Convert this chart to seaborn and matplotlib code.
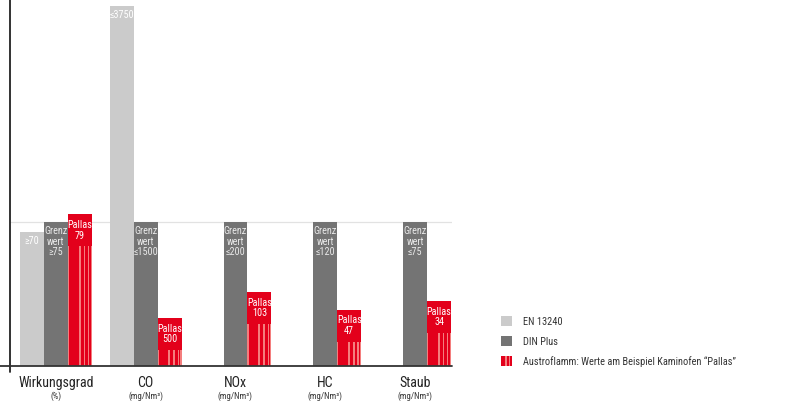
import matplotlib.pyplot as plt
import seaborn as sns
import pandas as pd
from matplotlib.patches import Patch, Rectangle
from matplotlib.legend_handler import HandlerTuple

categories = ['Wirkungsgrad', 'CO', 'NOx', 'HC', 'Staub']
units = ['(%)', '(mg/Nm³)', '(mg/Nm³)', '(mg/Nm³)', '(mg/Nm³)']
series = ['EN 13240', 'DIN Plus', 'Austroflamm: Werte am Beispiel Kaminofen “Pallas”']

en_values = [70, 3750, None, None, None]
en_labels = ['≥70', '≤3750', '', '', '']
din_values = [75, 1500, 200, 120, 75]
din_labels = ['Grenz\nwert\n≥75', 'Grenz\nwert\n≤1500', 'Grenz\nwert\n≤200',
              'Grenz\nwert\n≤120', 'Grenz\nwert\n≤75']
pallas_values = [79, 500, 103, 47, 34]

grey_light = '#cbcbcb'
grey_dark = '#747474'
red = '#e3001b'
red_light = '#f47e7e'

# every value is shown relative to the DIN Plus limit (= 100)
rows = []
for i, cat in enumerate(categories):
    for name, vals in zip(series, [en_values, din_values, pallas_values]):
        if vals[i] is not None:
            rows.append({'cat': cat, 'serie': name, 'rel': vals[i] / din_values[i] * 100})
df = pd.DataFrame(rows)

sns.set_style('white')
plt.rcParams['font.family'] = ['Roboto Condensed', 'Liberation Sans Narrow', 'Roboto', 'DejaVu Sans']
plt.rcParams['font.stretch'] = 'condensed'

W, H = 789, 401
fig = plt.figure(figsize=(W / 100, H / 100), dpi=100)
ax_px = (10, 35, 442, 366)  # left, bottom, width, height in pixels
ax = fig.add_axes([ax_px[0] / W, ax_px[1] / H, ax_px[2] / W, ax_px[3] / H])

sns.barplot(data=df, x='cat', y='rel', hue='serie', order=categories, hue_order=series,
            palette=[grey_light, grey_dark, red], width=0.8, dodge=True, linewidth=0,
            saturation=1, errorbar=None, legend=False, ax=ax)

ytop = 254.2
ax.set_ylim(0, ytop)
ax.set_xlim(-0.511, 4.411)
px = ytop / ax_px[3]  # data units per pixel

sns.despine(ax=ax, left=True, bottom=True)
ax.set_xticks([])
ax.set_yticks([])
ax.set_xlabel('')
ax.set_ylabel('')

ax.axhline(100, color='#e2e2e2', lw=0.9, zorder=0.5)
ax.plot([0, 0], [-6 / ax_px[3], 1], transform=ax.transAxes, clip_on=False, color='#222222', lw=1.3)
ax.plot([-10 / ax_px[2], 1], [0, 0], transform=ax.transAxes, clip_on=False, color='#333333', lw=1.3)

for i, cat in enumerate(categories):
    ax.annotate(cat, xy=(i, 0), xycoords=('data', 'axes fraction'), xytext=(0, -7),
                textcoords='offset points', ha='center', va='top', fontsize=10, color='#222222')
    ax.annotate(units[i], xy=(i, 0), xycoords=('data', 'axes fraction'), xytext=(0, -18.5),
                textcoords='offset points', ha='center', va='top', fontsize=6.3, color='#333333')

txt = dict(ha='center', va='top', fontsize=7.3, linespacing=1.05, textcoords='offset points')

for p in ax.containers[0]:
    cx = p.get_x() + p.get_width() / 2
    i = round(cx + 0.2667)
    ax.annotate(en_labels[i], xy=(cx, p.get_height()), xytext=(0, -3), color='white', **txt)

for p in ax.containers[1]:
    cx = p.get_x() + p.get_width() / 2
    i = round(cx)
    ax.annotate(din_labels[i], xy=(cx, p.get_height()), xytext=(0, -3), color='#e8e8e8', **txt)

box_h = 32 * px
stripes = [(0, 0.05), (0.45, 0.53), (0.66, 0.72), (0.84, 0.89), (0.95, 1.0)]
for p in ax.containers[2]:
    x0, w, h = p.get_x(), p.get_width(), p.get_height()
    cx = x0 + w / 2
    i = round(cx - 0.2667)
    for f0, f1 in stripes:
        ax.add_patch(Rectangle((x0 + f0 * w, 0), (f1 - f0) * w, h - box_h,
                               facecolor=red_light, lw=0, zorder=p.get_zorder() + 0.1))
    ax.annotate(f'Pallas\n{pallas_values[i]}', xy=(cx, h - box_h / 2), xytext=(0, 0),
                textcoords='offset points', ha='center', va='center', fontsize=7.3,
                linespacing=1.05, color='white')

handles = [Patch(facecolor=grey_light, lw=0), Patch(facecolor=grey_dark, lw=0),
           tuple(Patch(facecolor=c, lw=0) for c in [red, red, red_light, red, red_light, red])]
leg = fig.legend(handles, series, loc='upper left', bbox_to_anchor=(492 / W, 1 - 307 / H),
                 frameon=False, handlelength=1.05, handleheight=1.05, handletextpad=1.0,
                 labelspacing=0.9, fontsize=7.5,
                 handler_map={tuple: HandlerTuple(ndivide=None, pad=0)})
for t in leg.get_texts():
    t.set_color('#333333')

fig.savefig('out.png', dpi=100)
